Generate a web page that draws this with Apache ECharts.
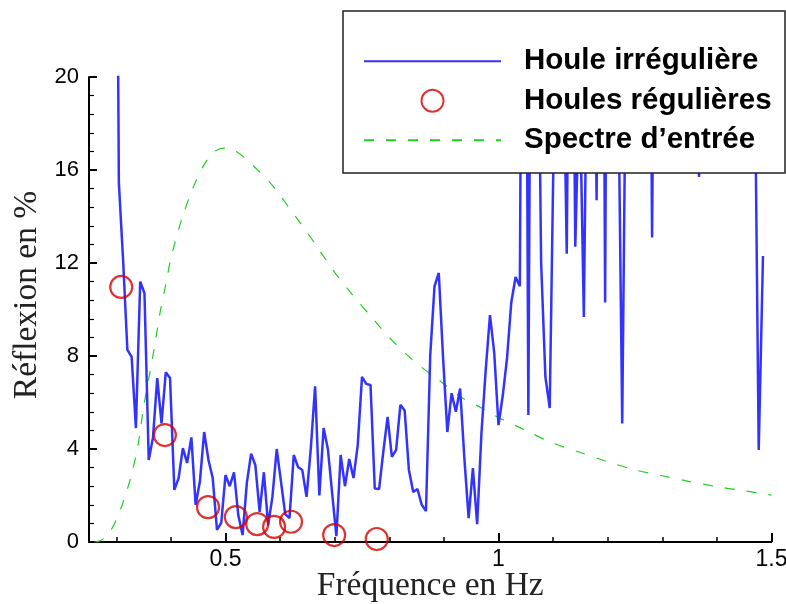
<!DOCTYPE html>
<html>
<head>
<meta charset="utf-8">
<script src="https://cdn.jsdelivr.net/npm/echarts@6/dist/echarts.min.js"></script>
<style>html,body{margin:0;padding:0;background:#fff}#c{width:786px;height:604px}</style>
</head>
<body>
<div id="c"></div>
<script>
// Houle irrégulière : fréquences (Hz) et réflexion (%)
const irrFreq = [
0.2969,0.3047,0.3125,0.3203,0.3281,0.3359,0.3438,0.3516,0.3594,0.3672,
0.3750,0.3828,0.3906,0.3984,0.4063,0.4141,0.4219,0.4297,0.4375,0.4453,
0.4531,0.4609,0.4688,0.4766,0.4844,0.4922,0.5000,0.5078,0.5156,0.5234,
0.5313,0.5391,0.5469,0.5547,0.5625,0.5703,0.5781,0.5859,0.5938,0.6016,
0.6094,0.6172,0.6250,0.6328,0.6406,0.6484,0.6563,0.6641,0.6719,0.6797,
0.6875,0.6953,0.7031,0.7109,0.7188,0.7266,0.7344,0.7422,0.7500,0.7578,
0.7656,0.7734,0.7813,0.7891,0.7969,0.8047,0.8125,0.8203,0.8281,0.8359,
0.8438,0.8516,0.8594,0.8672,0.8750,0.8828,0.8906,0.8984,0.9063,0.9141,
0.9219,0.9297,0.9375,0.9453,0.9531,0.9609,0.9688,0.9766,0.9844,0.9922,
1.0000,1.0078,1.0156,1.0234,1.0313,1.0391,1.0469,1.0547,1.0625,1.0703,
1.0781,1.0859,1.0938,1.1016,1.1094,1.1172,1.1250,1.1328,1.1406,1.1484,
1.1563,1.1641,1.1719,1.1797,1.1875,1.1953,1.2031,1.2109,1.2188,1.2266,
1.2344,1.2422,1.2500,1.2578,1.2656,1.2734,1.2813,1.2891,1.2969,1.3047,
1.3125,1.3203,1.3281,1.3359,1.3438,1.3516,1.3594,1.3672,1.3750,1.3828,
1.3906,1.3984,1.4063,1.4141,1.4219,1.4297,1.4375,1.4453,1.4531,1.4609,
1.4688,1.4766,1.4844
];
const irrReflexion = [
45,15.45,12.1,8.26,7.96,4.9,11.2,10.7,3.53,4.5,
7.05,5.1,7.3,7.05,2.24,2.75,4.04,3.4,4.5,1.6,
2.6,4.73,3.53,2.75,0.52,0.82,2.88,2.4,3.0,1.16,
0.3,2.54,3.8,3.3,1.3,3.0,0.73,1.94,4.0,2.6,
1.2,1.03,3.74,3.23,3.1,1.94,4.04,6.7,2.0,4.9,
4.0,2.1,0.25,3.74,2.4,3.57,2.75,4.17,7.1,6.8,
6.75,2.3,2.28,3.9,5.38,3.66,3.96,5.9,5.66,3.1,
2.15,2.28,1.6,1.33,8.04,11.0,11.57,7.96,4.73,6.4,
5.6,6.6,3.6,1.03,3.18,0.77,4.7,7.4,9.76,8.13,
5.03,6.3,7.9,10.3,11.4,11.0,45,5.46,42,28,
12.0,7.1,5.76,18,30,24,12.4,35,12.7,20,
9.68,26,32,14.7,48,10.3,50,27,21,5.1,
24,19,23,28,21,40,13.1,38,25,20,
22,27,19,24,21,26,40,15.7,42,24,
20,23,19,25,22,18,26,21,24,20,
22,3.96,12.3
];
// Houles régulières
const regFreq = [0.309, 0.389, 0.468, 0.519, 0.558, 0.589, 0.620, 0.699, 0.777];
const regReflexion = [10.97, 4.6, 1.5, 1.07, 0.77, 0.65, 0.87, 0.3, 0.13];
// Spectre d'entrée (échelle arbitraire)
const specFreq = [0.26,0.27,0.28,0.29,0.30,0.31,0.32,0.33,0.34,0.35,0.36,0.37,0.38,0.39,0.40,0.42,0.44,0.46,0.48,0.50,0.52,0.55,0.58,0.60,0.65,0.70,0.73,0.77,0.80,0.83,0.86,0.90,0.93,0.97,1.00,1.05,1.10,1.15,1.20,1.25,1.30,1.35,1.40,1.45,1.50];
const specValue = [0,0.05,0.2,0.5,0.95,1.55,2.25,3.1,4.2,5.8,7.1,8.4,9.85,11.0,12.2,13.9,15.2,16.2,16.8,16.95,16.8,16.2,15.5,14.9,13.3,11.6,10.7,9.6,8.8,8.1,7.5,6.8,6.25,5.75,5.35,4.8,4.25,3.85,3.45,3.1,2.85,2.6,2.38,2.2,2.02];
// Graduations
const xMajorTicks = [0.5, 1, 1.5];
const xMinorTicks = [0.3,0.4,0.6,0.7,0.8,0.9,1.1,1.2,1.3,1.4];
const legendNames = ['Houle irrégulière', 'Houles régulières', 'Spectre d\u2019entrée'];

const zip = (a, b) => a.map((v, i) => [v, b[i]]);
const chart = echarts.init(document.getElementById('c'), null, {renderer: 'canvas'});
const sans = 'Liberation Sans, Arial, Helvetica, sans-serif';
const serif = 'Liberation Serif, Times New Roman, serif';
chart.setOption({
  animation: false,
  backgroundColor: '#fff',
  grid: {left: 89, right: 14.5, top: 77, bottom: 62, outerBoundsMode: 'none', containLabel: false},
  xAxis: [{
    type: 'value', min: 0.25, max: 1.5, position: 'bottom',
    axisLine: {show: true, onZero: false, lineStyle: {color: '#000', width: 2}},
    axisTick: {show: true, inside: true, length: 9, customValues: xMajorTicks, lineStyle: {color: '#000', width: 2}},
    axisLabel: {customValues: xMajorTicks, color: '#000', fontSize: 23, fontFamily: sans, margin: 6},
    splitLine: {show: false},
    name: 'Fréquence en Hz', nameLocation: 'middle', nameGap: 27, nameMoveOverlap: false,
    nameTextStyle: {fontFamily: serif, fontSize: 33.5, color: '#222'}
  }, {
    type: 'value', min: 0.25, max: 1.5, position: 'bottom',
    axisLine: {show: false},
    axisTick: {show: true, inside: true, length: 5, customValues: xMinorTicks, lineStyle: {color: '#000', width: 1.5}},
    axisLabel: {show: false},
    splitLine: {show: false}
  }],
  yAxis: {
    type: 'value', min: 0, max: 20, interval: 4,
    axisLine: {show: true, onZero: false, lineStyle: {color: '#000', width: 2}},
    axisTick: {show: true, inside: true, length: 8, lineStyle: {color: '#000', width: 2}},
    minorTick: {show: true, splitNumber: 5, length: 5, lineStyle: {color: '#000', width: 1.2}},
    axisLabel: {color: '#000', fontSize: 22, fontFamily: sans, margin: 10},
    splitLine: {show: false},
    name: 'Réflexion en %', nameLocation: 'middle', nameGap: 45, nameRotate: 90, nameMoveOverlap: false,
    nameTextStyle: {fontFamily: serif, fontSize: 33.5, color: '#222', padding: [0, 0, 0, 29]}
  },
  legend: {
    orient: 'vertical', left: 363, top: 46.25, z: 20, padding: 0,
    itemWidth: 137, itemHeight: 22, itemGap: 9.5,
    data: [
      {name: legendNames[0], itemStyle: {opacity: 0}},
      {name: legendNames[1]},
      {name: legendNames[2], itemStyle: {opacity: 0}}
    ],
    selectedMode: false,
    textStyle: {fontSize: 29.5, fontWeight: 'bold', color: '#000', fontFamily: sans, padding: [0, 0, 0, 18]}
  },
  graphic: {elements: [{
    type: 'rect', z: 10,
    shape: {x: 343, y: 11, width: 442, height: 162},
    style: {fill: '#fff', stroke: '#222', lineWidth: 1.5}
  }]},
  series: [{
    name: legendNames[2], type: 'line', data: zip(specFreq, specValue),
    symbol: 'none', smooth: 0.3, z: 1,
    lineStyle: {color: '#22cc22', width: 1.2, type: [10, 12]},
    itemStyle: {color: '#22cc22'}
  }, {
    name: legendNames[0], type: 'line', data: zip(irrFreq, irrReflexion),
    symbol: 'none', clip: true, z: 2,
    lineStyle: {color: '#3333ff', width: 2.5},
    itemStyle: {color: '#3333ff'}
  }, {
    name: legendNames[1], type: 'scatter', data: zip(regFreq, regReflexion),
    symbol: 'circle', symbolSize: 22, z: 3,
    itemStyle: {color: 'rgba(0,0,0,0)', borderColor: '#d40000', borderWidth: 2.2}
  }]
});
</script>
</body>
</html>
